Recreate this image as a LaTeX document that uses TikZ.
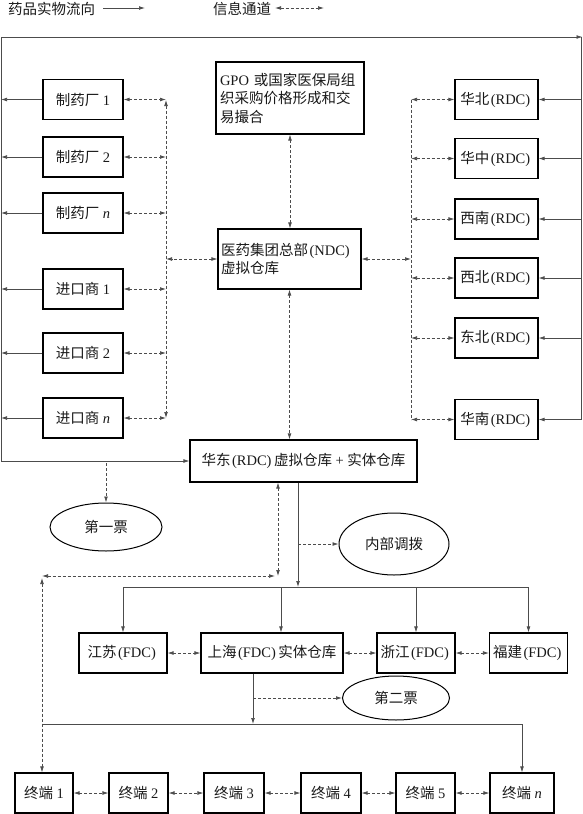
\documentclass[tikz,border=0pt]{standalone}
\usepackage{fontspec}
\setmainfont{Liberation Serif}
\newfontfamily\cjk{Noto Sans CJK SC}
\usetikzlibrary{arrows.meta,shapes.geometric,calc}
\newcommand\fs{\fontsize{14.5}{18.5}\selectfont}
\newcommand\zh[1]{{\cjk #1}}
\newcommand\pa[1]{\kern1.5pt(#1)\kern2.5pt}
\tikzset{
  box/.style={draw=black, line width=1.1pt, minimum height=40pt, inner sep=0pt, font=\fs, text=black!90},
  lbox/.style={box, minimum width=80pt},
  rbox/.style={box, minimum width=83pt},
  tbox/.style={box, minimum width=60pt},
  oval/.style={ellipse, draw=black, line width=1pt, inner sep=0pt, font=\fs, text=black!90},
  conn/.style={draw=black!70, line width=0.7pt},
  tip/.tip={Latex[length=6pt,width=3.8pt]},
  flow/.style={conn, -tip},
  infoline/.style={conn, dash pattern=on 3pt off 2pt},
  info/.style={infoline, tip-tip},
  infoone/.style={infoline, -tip},
  legend/.style={anchor=west, inner sep=0pt, font=\fs, text=black!90}
}
\begin{document}
\begin{tikzpicture}[x=1pt,y=-1pt]
\useasboundingbox (0,0) rectangle (583,814);

% legend
\node[legend] (lg1) at (8,9) {\zh{药品实物流向}};
\coordinate (lg1s) at (103,8); \coordinate (lg1e) at (145,8);
\draw[flow] (lg1s) -- (lg1e);
\node[legend] (lg2) at (213,9) {\zh{信息通道}};
\coordinate (lg2s) at (275,8); \coordinate (lg2e) at (324,8);
\draw[info] (lg2s) -- (lg2e);

% left column
\node[lbox] (m1) at (83,99.5) {\zh{制药厂} 1};
\node[lbox] (m2) at (83,157) {\zh{制药厂} 2};
\node[lbox] (mn) at (83,213) {\zh{制药厂} \textit{n}};
\node[lbox] (i1) at (83,289) {\zh{进口商} 1};
\node[lbox] (i2) at (83,353) {\zh{进口商} 2};
\node[lbox] (in) at (83,418) {\zh{进口商} \textit{n}};

% right column
\node[rbox] (hb) at (496.5,99.5) {\zh{华北}\pa{RDC}};
\node[rbox] (hz) at (496.5,158.5) {\zh{华中}\pa{RDC}};
\node[rbox] (xn) at (496.5,219) {\zh{西南}\pa{RDC}};
\node[rbox] (xb) at (496.5,278) {\zh{西北}\pa{RDC}};
\node[rbox] (db) at (496.5,338) {\zh{东北}\pa{RDC}};
\node[rbox] (hn) at (496.5,419.5) {\zh{华南}\pa{RDC}};

% centre
\node[box, minimum width=148pt, minimum height=72pt, align=left, text width=140pt] (gpo) at (290,98)
  {GPO \zh{或国家医保局组}\\\zh{织采购价格形成和交}\\\zh{易撮合}};
\node[box, minimum width=143pt, minimum height=60pt, align=left, text width=137pt] (ndc) at (289.5,259)
  {\zh{医药集团总部}\pa{NDC}\\\zh{虚拟仓库}};
\node[box, minimum width=227pt, minimum height=42pt] (hd) at (303.5,461)
  {\zh{华东}\pa{RDC}\zh{虚拟仓库} + \zh{实体仓库}};

\node[oval, minimum width=112pt, minimum height=48pt] (p1) at (106,527) {\zh{第一票}};
\node[oval, minimum width=110pt, minimum height=62pt] (nb) at (394,544) {\zh{内部调拨}};

% FDC row
\node[box, minimum width=88pt] (js) at (123,653) {\zh{江苏}\pa{FDC}};
\node[box, minimum width=142pt] (sh) at (272,653) {\zh{上海}\pa{FDC}\zh{实体仓库}};
\node[box, minimum width=78pt] (zj) at (416,653) {\zh{浙江}\pa{FDC}};
\node[box, minimum width=78pt] (fj) at (528.5,653) {\zh{福建}\pa{FDC}};

\node[oval, minimum width=107pt, minimum height=44pt] (p2) at (396,698) {\zh{第二票}};

% terminals
\node[box, minimum width=58pt] (t1) at (44,793) {\zh{终端} 1};
\node[tbox, minimum width=59pt] (t2) at (138.5,793) {\zh{终端} 2};
\node[tbox] (t3) at (234,793) {\zh{终端} 3};
\node[tbox] (t4) at (331,793) {\zh{终端} 4};
\node[tbox, minimum width=59pt] (t5) at (425.5,793) {\zh{终端} 5};
\node[tbox, minimum width=64pt] (tn) at (522,793) {\zh{终端} \textit{n}};

% outer physical flow loop
\coordinate (LT) at (1,37);
\coordinate (RT) at (581,37);
\coordinate (RTa) at (582.5,37);
\draw[flow] (LT) -- (RTa);
\draw[conn] (RT) -- (RT |- hn.east);
\draw[flow] (LT) |- (hd.west);
\foreach \b in {m1,m2,mn,i1,i2,in}{
  \draw[flow] (\b.west) -- (\b.west -| LT);
}
\foreach \b in {hb,hz,xn,xb,db,hn}{
  \draw[flow] (\b.east -| RT) -- (\b.east);
}

% left information bus
\coordinate (LVt) at (166,100);
\coordinate (LVb) at (166,418);
\draw[info] (LVt) -- (LVb);
\foreach \b in {m1,m2,mn,i1,i2,in}{
  \draw[info] (\b.east) -- (\b.east -| LVt);
}
\draw[info] (ndc.west) -- (ndc.west -| LVt);

% right information bus
\coordinate (RVt) at (411,99.5);
\coordinate (RVb) at (411,419.5);
\draw[infoline] (RVt) -- (RVb);
\foreach \b in {hb,hz,xn,xb,db,hn}{
  \draw[info] (\b.west -| RVt) -- (\b.west);
}
\draw[info] (ndc.east) -- (ndc.east -| RVt);

% centre information
\draw[info] (gpo.south) -- (gpo.south |- ndc.north);
\draw[info] (ndc.south) -- (ndc.south |- hd.north);

% first invoice
\coordinate (F1) at (106,463);
\draw[infoone] (F1) -- (p1.north);

% east china down links
\coordinate (Dc) at (278,576);
\coordinate (Dr) at (275,576);
\coordinate (Dl) at (42,576);
\coordinate (Dl2) at (42,578);
\draw[info] (hd.south -| Dc) -- (Dc);
\draw[info] (Dl) -- (Dr);
\draw[info] (Dl2) -- (t1.north -| Dl2);

\coordinate (S1) at (298,587);
\coordinate (S1m) at (298,544);
\draw[flow] (hd.south -| S1) -- (S1);
\draw[infoone] (S1m) -- (nb.west);

% FDC bus
\coordinate (BL) at (123,587);
\coordinate (Bsh) at (281,587);
\draw[conn] (BL) -- (fj.north |- BL);
\draw[flow] (js.north |- BL) -- (js.north);
\draw[flow] (Bsh) -- (Bsh |- sh.north);
\draw[flow] (zj.north |- BL) -- (zj.north);
\draw[flow] (fj.north |- BL) -- (fj.north);
\draw[info] (js.east) -- (sh.west);
\draw[info] (sh.east) -- (zj.west);
\draw[info] (zj.east) -- (fj.west);

% Shanghai down
\coordinate (S2) at (253,724);
\coordinate (S2m) at (253,698);
\coordinate (LB) at (42,724);
\draw[flow] (sh.south -| S2) -- (S2);
\draw[infoone] (S2m) -- (p2.west);
\draw[flow] (LB) -| (tn.north);

% terminal links
\draw[info] (t1.east) -- (t2.west);
\draw[info] (t2.east) -- (t3.west);
\draw[info] (t3.east) -- (t4.west);
\draw[info] (t4.east) -- (t5.west);
\draw[info] (t5.east) -- (tn.west);
\end{tikzpicture}
\end{document}
